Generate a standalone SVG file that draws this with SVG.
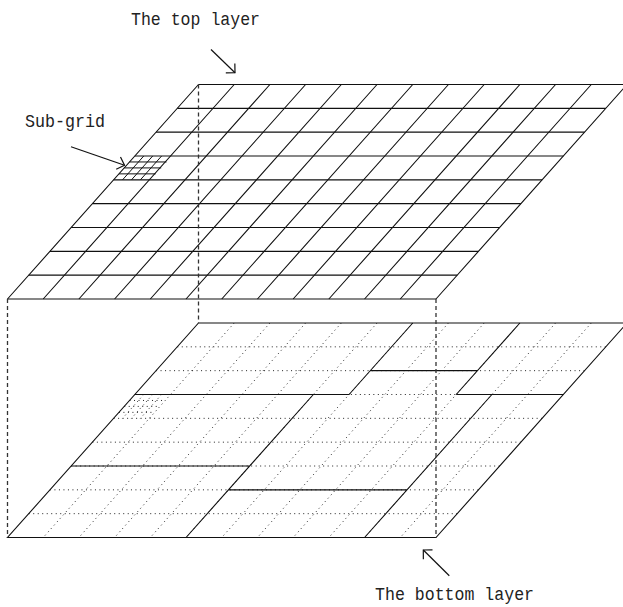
<svg xmlns="http://www.w3.org/2000/svg" width="623" height="607" viewBox="0 0 623 607">
<style>
.bg{fill:#fff}
.grid{fill:none;stroke:#111;stroke-width:1.1}
.sub{fill:none;stroke:#111;stroke-width:1}
.dot{fill:none;stroke:#222;stroke-width:1;stroke-dasharray:1 3.5}
.dash{fill:none;stroke:#333;stroke-width:1.3;stroke-dasharray:4 3}
.arrow{fill:none;stroke:#111;stroke-width:1.2}
.lbl{font-family:"Liberation Mono","DejaVu Sans Mono",monospace;font-size:18px;fill:#222}
</style>
<defs>
<marker id="head" markerUnits="userSpaceOnUse" markerWidth="16" markerHeight="16" viewBox="-8 -8 16 16" refX="0" refY="0" orient="auto">
<path d="M-6.5,-6.5 L0,0 L-6.5,6.5" fill="none" stroke="#111" stroke-width="1.2"/>
</marker>
</defs>
<rect class="bg" x="0" y="0" width="623" height="607"/>

<g id="bottom-layer">
<path class="dot" d="M177.28,346.83H605.78 M156.06,370.67H584.56 M134.83,394.5H563.33 M113.61,418.33H542.11 M92.39,442.17H520.89 M71.17,466H499.67 M49.94,489.83H478.44 M28.72,513.67H457.22"/>
<path class="dot" d="M234.21,323L43.21,537.5 M269.92,323L78.92,537.5 M305.62,323L114.62,537.5 M341.33,323L150.33,537.5 M377.04,323L186.04,537.5 M412.75,323L221.75,537.5 M448.46,323L257.46,537.5 M484.17,323L293.17,537.5 M519.87,323L328.87,537.5 M555.58,323L364.58,537.5 M591.29,323L400.29,537.5"/>
<path class="dot" d="M129.53,400.46H165.23 M124.22,406.42H159.93 M118.92,412.37H154.63 M143.76,394.5L122.54,418.33 M152.69,394.5L131.47,418.33 M161.61,394.5L140.39,418.33"/>
<path class="grid" d="M198.5,323H627L436,537.5H7.5Z"/>
<path class="grid" d="M313.37,394.5L186.04,537.5 M412.75,323L349.08,394.5 M519.87,323L456.2,394.5 M491.91,394.5L364.58,537.5 M370.31,370.67H477.43 M134.83,394.5H349.08 M456.2,394.5H563.33 M71.17,466H249.71 M228.48,489.83H407.02"/>
</g>

<g id="top-layer">
<path class="grid" d="M198.5,84.5H627 M177.28,108.33H605.78 M156.06,132.17H584.56 M134.83,156H563.33 M113.61,179.83H542.11 M92.39,203.67H520.89 M71.17,227.5H499.67 M49.94,251.33H478.44 M28.72,275.17H457.22 M7.5,299H436"/>
<path class="grid" d="M198.5,84.5L7.5,299 M234.21,84.5L43.21,299 M269.92,84.5L78.92,299 M305.62,84.5L114.62,299 M341.33,84.5L150.33,299 M377.04,84.5L186.04,299 M412.75,84.5L221.75,299 M448.46,84.5L257.46,299 M484.17,84.5L293.17,299 M519.87,84.5L328.87,299 M555.58,84.5L364.58,299 M591.29,84.5L400.29,299 M627,84.5L436,299"/>
<g id="sub-grid">
<path class="sub" d="M129.53,161.96H166.5 M124.22,167.92H161.2 M118.92,173.87H155.6 M143.76,156L122.54,179.83 M152.69,156L131.47,179.83 M161.61,156L140.39,179.83"/>
</g>
</g>

<g id="projection">
<path class="dash" d="M198.5,84.5V323 M7.5,299V537.5 M436,299V537.5"/>
</g>

<g id="connectors">
<path class="arrow" d="M211,49.5L235,72.7" marker-end="url(#head)"/>
<path class="arrow" d="M71,146.7L124.5,165.3" marker-end="url(#head)"/>
<path class="arrow" d="M449.3,575.7L423.3,550" marker-end="url(#head)"/>
</g>

<g id="labels">
<text id="label-top" class="lbl" x="131" y="25" textLength="129" lengthAdjust="spacingAndGlyphs">The top layer</text>
<text id="label-sub" class="lbl" x="25" y="126.5" textLength="80" lengthAdjust="spacingAndGlyphs">Sub-grid</text>
<text id="label-bottom" class="lbl" x="375" y="600" textLength="159" lengthAdjust="spacingAndGlyphs">The bottom layer</text>
</g>
</svg>
